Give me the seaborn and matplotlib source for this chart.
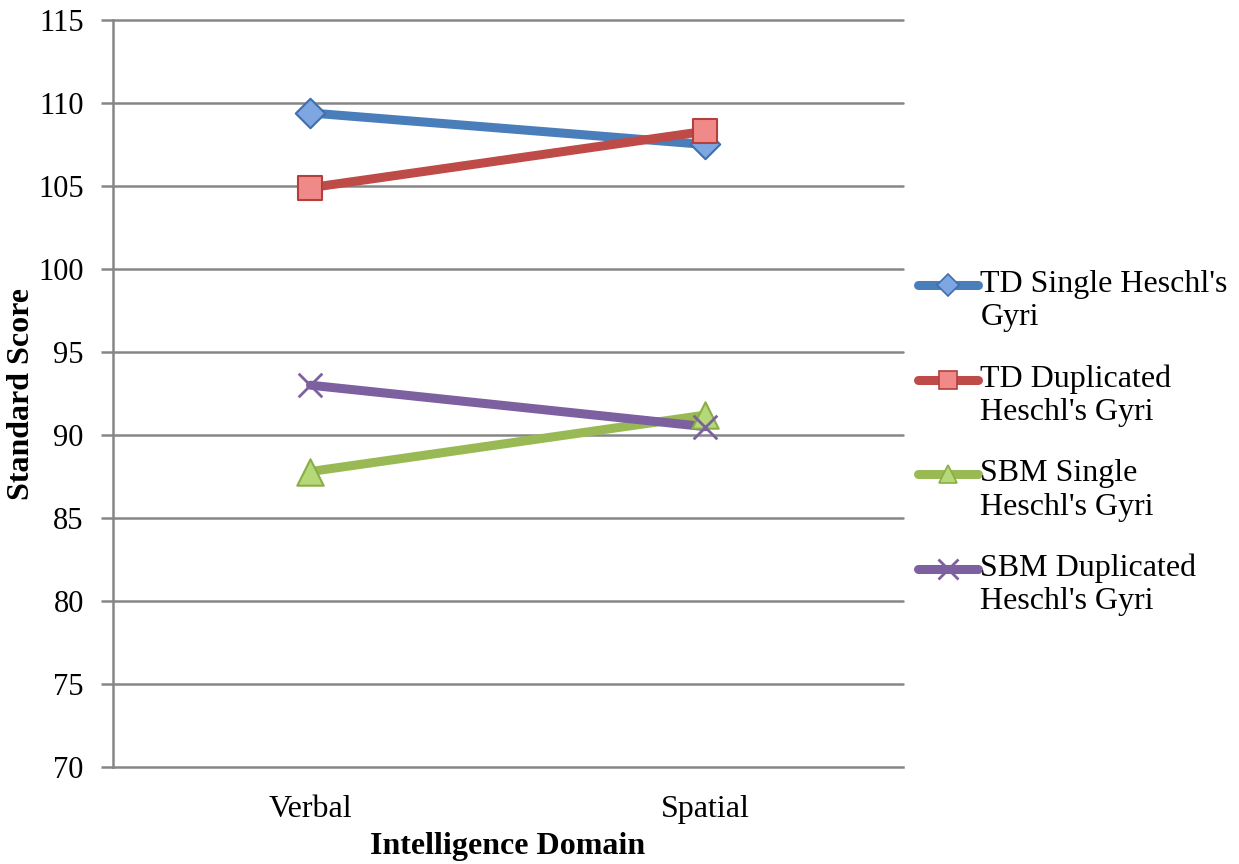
import matplotlib
matplotlib.use("Agg")
import matplotlib.pyplot as plt
import seaborn as sns
import pandas as pd
from matplotlib.lines import Line2D
from matplotlib.legend_handler import HandlerLine2D

# Intelligence domains on the x axis
domains = ["Verbal", "Spatial"]

# Mean standard scores per group
td_single = [109.4, 107.5]
td_duplicated = [104.9, 108.3]
sbm_single = [87.8, 91.2]
sbm_duplicated = [93.0, 90.5]

groups = [
    "TD Single Heschl's Gyri",
    "TD Duplicated Heschl's Gyri",
    "SBM Single Heschl's Gyri",
    "SBM Duplicated Heschl's Gyri",
]
legend_labels = [
    "TD Single Heschl's\nGyri",
    "TD Duplicated\nHeschl's Gyri",
    "SBM Single\nHeschl's Gyri",
    "SBM Duplicated\nHeschl's Gyri",
]
y_ticks = [70, 75, 80, 85, 90, 95, 100, 105, 110, 115]

series = [td_single, td_duplicated, sbm_single, sbm_duplicated]
rows = []
for g, vals in zip(groups, series):
    for d, v in zip(domains, vals):
        rows.append({"Domain": d, "Score": v, "Group": g})
df = pd.DataFrame(rows)

line_colors = ["#4A7EBB", "#BE4B48", "#98B954", "#7D60A0"]
face_colors = ["#7EA6E0", "#F08A88", "#B5D878", "#7D60A0"]
edge_colors = ["#3F6FAF", "#B3403D", "#8AAD45", "#7D60A0"]
markers = ["D", "s", "^", "x"]
msizes = [15, 17, 19, 17]


class FirstLineHandler(HandlerLine2D):
    """Legend key aligned with the first line of a two-line label."""

    def create_artists(self, legend, orig_handle, xdescent, ydescent,
                       width, height, fontsize, trans):
        artists = super().create_artists(legend, orig_handle, xdescent, ydescent,
                                         width, height, fontsize, trans)
        for a in artists:
            a.set_ydata([v + 0.5 * fontsize for v in a.get_ydata()])
        return artists


sns.set_theme(style="white")
plt.rcParams["font.family"] = ["Liberation Serif", "DejaVu Serif"]
plt.rcParams["text.color"] = "black"
plt.rcParams["axes.labelcolor"] = "black"

fig = plt.figure(figsize=(12.39, 8.64), dpi=100)
ax = fig.add_axes([113 / 1239, 1 - 767 / 864, 790 / 1239, 747 / 864])

grid_color = "#868686"
for t in y_ticks[1:]:
    ax.axhline(t, color=grid_color, lw=1.8, zorder=0, clip_on=False)

sns.lineplot(
    data=df, x="Domain", y="Score", hue="Group", hue_order=groups,
    palette=dict(zip(groups, line_colors)), linewidth=6.5,
    legend=False, ax=ax, sort=False, zorder=2,
)

# Markers drawn per group on the same categorical positions
for i, g in enumerate(groups):
    sub = df[df["Group"] == g]
    if markers[i] == "x":
        sns.scatterplot(data=sub, x="Domain", y="Score", marker="x",
                        s=msizes[i] ** 2, color=edge_colors[i],
                        linewidth=2, ax=ax, zorder=3, legend=False)
    else:
        sns.scatterplot(data=sub, x="Domain", y="Score", marker=markers[i],
                        s=msizes[i] ** 2, color=face_colors[i],
                        edgecolor=edge_colors[i], linewidth=1.5,
                        ax=ax, zorder=3, legend=False)

ax.set_xlim(-0.5, 1.5)
ax.set_ylim(70, 115)
ax.set_yticks(y_ticks)
ax.set_yticklabels([str(t) for t in y_ticks], fontsize=22)
ax.tick_params(axis="y", direction="out", length=9, width=1.8,
               color=grid_color, labelcolor="black", pad=12, left=True)
ax.tick_params(axis="x", length=0, pad=20, labelsize=23, labelcolor="black")

for side in ["top", "right"]:
    ax.spines[side].set_visible(False)
ax.spines["left"].set_color(grid_color)
ax.spines["left"].set_linewidth(1.8)
ax.spines["bottom"].set_color(grid_color)
ax.spines["bottom"].set_linewidth(1.8)

ax.set_xlabel("Intelligence Domain", fontsize=23, fontweight="bold", labelpad=6)
ax.set_ylabel("Standard Score", fontsize=23, fontweight="bold", labelpad=0)
ax.yaxis.set_label_coords(-0.097, 0.5)

handles = []
for i in range(4):
    if markers[i] == "x":
        h = Line2D([], [], color=line_colors[i], lw=6.5, marker="x",
                   markersize=14, markeredgecolor=edge_colors[i], markeredgewidth=2)
    else:
        h = Line2D([], [], color=line_colors[i], lw=6.5, marker=markers[i],
                   markersize=13 if markers[i] != "D" else 11,
                   markerfacecolor=face_colors[i],
                   markeredgecolor=edge_colors[i], markeredgewidth=1.2)
    handles.append(h)

fig.legend(handles, legend_labels, loc="upper left",
           bbox_to_anchor=(918 / 1239, 1 - 270 / 864), frameon=False,
           fontsize=23, handlelength=1.87, handletextpad=0.08,
           labelspacing=1.0, borderaxespad=0, borderpad=0,
           handler_map={Line2D: FirstLineHandler()})

fig.savefig("out.png", dpi=100, facecolor="white")
